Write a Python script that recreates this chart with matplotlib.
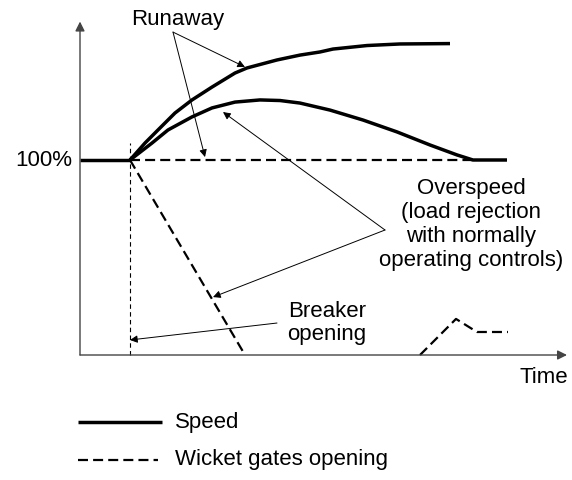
import numpy as np
import matplotlib.pyplot as plt

plt.rcParams['font.family'] = ['Liberation Sans', 'DejaVu Sans']

# time (arbitrary units, breaker opens at t=1) and speed / gate opening in %
t_before = [0.0, 1.0]
y_before = [100, 100]

t_runaway = [1.0, 1.3, 1.56, 1.9, 2.24, 2.64, 3.1, 3.34, 3.94, 4.4, 4.8, 5.06,
             5.74, 6.4, 7.4]
y_runaway = [100, 108.7, 115.4, 124.1, 130.8, 137.4, 144.6, 147.2, 151.3, 153.8,
             155.4, 156.9, 158.7, 159.5, 159.7]

t_over = [1.0, 1.44, 1.76, 2.24, 2.64, 3.1, 3.6, 4.0, 4.4, 5.0, 5.66, 6.34, 7.0,
          7.54, 7.86, 8.54]
y_over = [100, 108.7, 115.4, 122.1, 126.7, 129.7, 130.8, 130.5, 129.2, 125.6,
          120.5, 114.4, 107.7, 102.6, 100, 100]

t_gate_open = [1.0, 7.86]
y_gate_open = [100, 100]

t_gate_close = [1.0, 3.3]
y_gate_close = [100, 0]

t_gate_reopen = [6.8, 7.52, 7.94, 8.56]
y_gate_reopen = [0, 18.5, 11.8, 11.8]

t_breaker = 1.0

fig = plt.figure(figsize=(5.72, 4.8), dpi=100)
ax = fig.add_axes([0, 0, 1, 1])
ax.set_xlim(-1.6, 9.84)
ax.set_ylim(-64.1, 182.05)
ax.axis('off')

# axes with arrows
ax.annotate('', xy=(0, 171), xytext=(0, 0),
            arrowprops=dict(arrowstyle='-|>', color='#444444', lw=1.0,
                            mutation_scale=14, shrinkA=0, shrinkB=0))
ax.annotate('', xy=(9.74, 0), xytext=(0, 0),
            arrowprops=dict(arrowstyle='-|>', color='#444444', lw=1.0,
                            mutation_scale=14, shrinkA=0, shrinkB=0))

# breaker opening marker
ax.plot([t_breaker, t_breaker], [0, 108.7], color='k', lw=0.8, ls=(0, (4, 3)))

# speed
sp = dict(color='k', lw=2.5, solid_capstyle='butt', solid_joinstyle='round')
ax.plot(t_before, y_before, **sp)
ax.plot(t_runaway, y_runaway, **sp)
ax.plot(t_over, y_over, **sp)

# wicket gates
dash = (0, (4.5, 2.3))
ax.plot(t_gate_open, y_gate_open, color='k', lw=1.6, ls=dash)
ax.plot(t_gate_close, y_gate_close, color='k', lw=1.6, ls=dash)
ax.plot(t_gate_reopen, y_gate_reopen, color='k', lw=1.6, ls=dash)

ap = dict(arrowstyle='-|>', color='k', lw=0.7, mutation_scale=11,
          shrinkA=0, shrinkB=0)
fs = 16

ax.text(-0.16, 100, '100%', ha='right', va='center', fontsize=fs)

ax.text(1.96, 172, 'Runaway', ha='center', va='center', fontsize=fs)
ax.annotate('', xy=(3.3, 147.7), xytext=(1.86, 165.6), arrowprops=ap)
ax.annotate('', xy=(2.5, 101.5), xytext=(1.86, 165.6), arrowprops=ap)

ax.text(7.82, 66.9, 'Overspeed\n(load rejection\nwith normally\noperating controls)',
        ha='center', va='center', fontsize=fs, linespacing=1.18)
ax.annotate('', xy=(2.86, 124.6), xytext=(6.1, 64.1), arrowprops=ap)
ax.annotate('', xy=(2.66, 29.7), xytext=(6.1, 64.1), arrowprops=ap)

ax.text(4.94, 16.4, 'Breaker\nopening', ha='center', va='center', fontsize=fs,
        linespacing=1.18)
ax.annotate('', xy=(1.0, 7.7), xytext=(3.94, 16.4), arrowprops=ap)

ax.text(9.28, -11.5, 'Time', ha='center', va='center', fontsize=fs)

# legend
ax.plot([-0.04, 1.64], [-34.4, -34.4], **sp)
ax.text(1.9, -34.4, 'Speed', ha='left', va='center', fontsize=fs)
ax.plot([-0.04, 1.56], [-53.8, -53.8], color='k', lw=1.6, ls=dash)
ax.text(1.9, -53.8, 'Wicket gates opening', ha='left', va='center', fontsize=fs)

fig.savefig('out.png', dpi=100)
